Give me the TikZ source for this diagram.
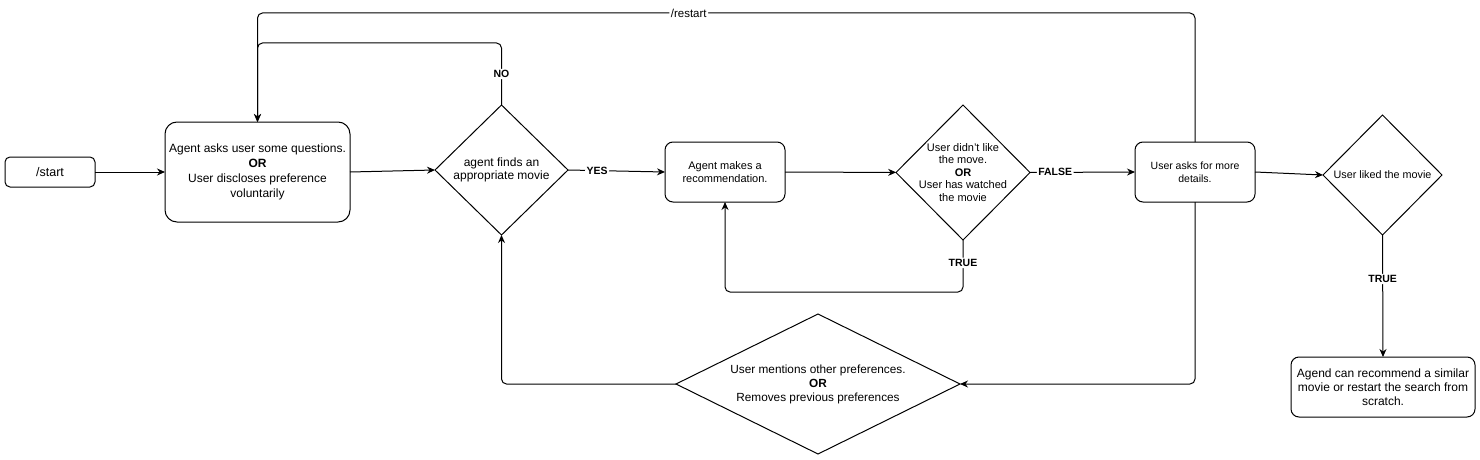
\documentclass[tikz,border=0pt]{standalone}
\usepackage{fontspec}
\setmainfont{Liberation Sans}
\usetikzlibrary{shapes.geometric,arrows.meta}
\begin{document}
\begin{tikzpicture}[x=1pt,y=-1pt,
  font=\fontsize{10}{13}\selectfont,
  box/.style={draw, rounded corners=8pt, align=center, line width=1pt, inner sep=0pt, outer sep=0pt},
  dia/.style={draw, diamond, inner sep=0pt, outer sep=0pt, line width=1pt},
  arr/.style={-{Stealth[length=8pt,width=7pt]}, line width=1pt, rounded corners=5pt},
  lbl/.style={fill=white, inner sep=1.5pt, font=\fontsize{10.5}{12}\selectfont\bfseries}]
\useasboundingbox (0,0) rectangle (1480,460);

\node[box, minimum width=90pt, minimum height=30pt, rounded corners=5pt,
  font=\fontsize{12.5}{14}\selectfont] (start) at (50,172) {/start};
\node[box, minimum width=185pt, minimum height=100pt, rounded corners=12pt,
  font=\fontsize{12}{15}\selectfont] (ask) at (257.5,172)
  {Agent asks user some questions.\\\textbf{OR}\\User discloses preference\\voluntarily};
\node[dia, minimum width=133pt, minimum height=130pt,
  label={[align=center, font=\fontsize{12}{13}\selectfont]center:{agent finds an\\appropriate movie}}] (find) at (501.5,170) {};
\node[box, minimum width=120pt, minimum height=60pt, font=\fontsize{11}{13.5}\selectfont] (rec) at (725,172)
  {Agent makes a\\recommendation.};
\node[dia, minimum width=134pt, minimum height=135pt,
  label={[align=center, font=\fontsize{11}{12.5}\selectfont]center:{User didn't like\\the move.\\\textbf{OR}\\User has watched\\the movie}}] (didnt) at (963,172.5) {};
\node[box, minimum width=120pt, minimum height=60pt, font=\fontsize{10.5}{13}\selectfont] (det) at (1195,172)
  {User asks for more\\details.};
\node[dia, minimum width=119pt, minimum height=120pt,
  label={[font=\fontsize{10.8}{13}\selectfont]center:User liked the movie}] (liked) at (1382.5,175) {};
\node[box, minimum width=184pt, minimum height=60pt, font=\fontsize{12}{14}\selectfont] (agend) at (1383,387)
  {Agend can recommend a similar\\movie or restart the search from\\scratch.};
\node[dia, minimum width=284pt, minimum height=140pt,
  label={[align=center, font=\fontsize{11.8}{14}\selectfont]center:{User mentions other preferences.\\\textbf{OR}\\Removes previous preferences}}] (ment) at (818,384) {};

\coordinate (yb) at (0,292);
\coordinate (yno) at (0,43);
\coordinate (yr) at (0,13);

\draw[arr] (start) -- (ask);
\draw[arr] (ask.east) -- (find.west);
\draw[arr] (find.east) -- node[lbl, pos=0.3] {YES} (rec.west);
\draw[arr] (rec) -- (didnt);
\draw[arr] (didnt.east) -- node[lbl, pos=0.24] {FALSE} (det.west);
\draw[arr] (det.east) -- (liked.west);
\draw[arr] (liked.south) -- node[lbl, pos=0.36] {TRUE} (agend.north);
\draw[arr] (didnt.south) -- node[lbl, pos=0.44] {TRUE} (didnt.south |- yb) -| (rec.south);
\draw[arr] (find.north) -- node[lbl, pos=0.5] {NO} (find.north |- yno) -| (ask.north);
\draw[arr] (det.north) -- (det.north |- yr) -- node[fill=white, inner sep=1.5pt, pos=0.54, font=\fontsize{11.5}{12}\selectfont] {/restart} (ask.north |- yr) -- (ask.north);
\draw[arr] (det.south) |- (ment.east);
\draw[arr] (ment.west) -| (find.south);
\end{tikzpicture}
\end{document}
